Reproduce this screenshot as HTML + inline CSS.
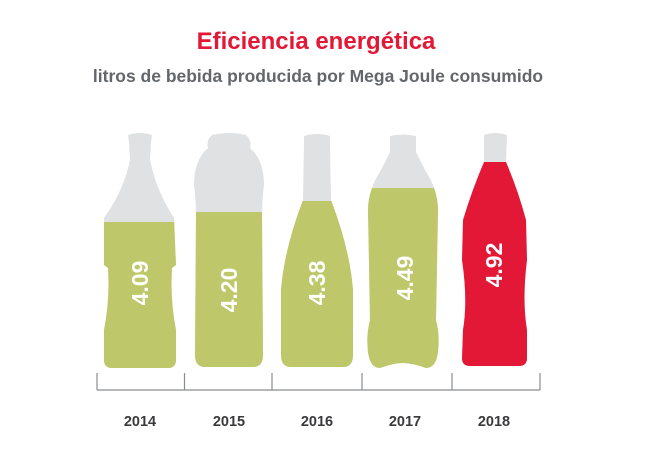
<!DOCTYPE html><html><head><style>body{margin:0;background:#fff}svg{display:block}</style></head><body>
<svg width="648" height="454" viewBox="0 0 648 454" xmlns="http://www.w3.org/2000/svg" font-family="Liberation Sans, sans-serif">
<text x="316" y="49" text-anchor="middle" font-size="24" font-weight="bold" fill="#e31837">Eficiencia energética</text>
<text x="318" y="82" text-anchor="middle" font-size="17.5" font-weight="bold" fill="#63666a">litros de bebida producida por Mega Joule consumido</text>
<defs>
<path id="b1" d="M128,135 Q140,131 152,135 L151,142 L150,160 Q156,190 174,218 L176,265 L172,268 Q170,300 176,330 L176,360 Q176,368 168,368 L112,368 Q104,368 104,360 L104,330 Q110,300 108,268 L104,265 L104,218 Q124,190 130,160 L129,142 Z"/>
<path id="b2" d="M212,135 Q229,131 246,135 Q252,140 250,148 Q264,160 264,185 Q262,200 262,215 L263,355 Q263,367 253,367 L205,367 Q195,367 195,355 L196,215 Q196,200 194,185 Q194,160 208,148 Q206,140 212,135 Z"/>
<path id="b3" d="M304,136 Q317,132 330,136 L330,142 L331,200 Q350,250 353,290 L353,355 Q353,367 343,367 L291,367 Q281,367 281,355 L281,290 Q284,250 303,200 L304,142 Z"/>
<path id="b4" d="M390,136 Q403,133 416,136 L416,152 Q420,160 425,170 Q438,190 438,210 L436,320 Q440,335 438,352 Q436,368 426,368 Q412,363 403,363 Q394,363 380,368 Q370,368 368,352 Q366,335 370,320 L368,210 Q368,190 381,170 Q386,160 390,152 Z"/>
<path id="b5" d="M484,135 Q495,131 507,135 L506,162 Q518,190 526,220 L527,260 Q522,300 527,330 L527,358 Q527,366 519,366 L470,366 Q462,366 462,358 L463,330 Q468,300 462,260 L463,220 Q472,190 484,162 Z"/>
<clipPath id="c1"><rect x="90" y="222" width="100" height="160"/></clipPath>
<clipPath id="c2"><rect x="180" y="212" width="100" height="160"/></clipPath>
<clipPath id="c3"><rect x="270" y="201" width="100" height="170"/></clipPath>
<clipPath id="c4"><rect x="360" y="188" width="100" height="190"/></clipPath>
<clipPath id="c5"><rect x="450" y="162" width="100" height="210"/></clipPath>
</defs>
<g fill="#e0e1e3"><use href="#b1"/><use href="#b2"/><use href="#b3"/><use href="#b4"/><use href="#b5"/></g>
<use href="#b1" fill="#bec769" clip-path="url(#c1)"/>
<use href="#b2" fill="#bec769" clip-path="url(#c2)"/>
<use href="#b3" fill="#bec769" clip-path="url(#c3)"/>
<use href="#b4" fill="#bec769" clip-path="url(#c4)"/>
<use href="#b5" fill="#e31837" clip-path="url(#c5)"/>
<g fill="#fff" font-size="23" font-weight="bold" text-anchor="middle">
<text transform="translate(148,283) rotate(-90)">4.09</text>
<text transform="translate(237,290) rotate(-90)">4.20</text>
<text transform="translate(325,283) rotate(-90)">4.38</text>
<text transform="translate(413,278) rotate(-90)">4.49</text>
<text transform="translate(502,265) rotate(-90)">4.92</text>
</g>
<g stroke="#8a8c8e" stroke-width="1.2" fill="none">
<path d="M97,390 H540"/>
<path d="M97,373 V390 M184.5,373 V390 M272,373 V390 M362,373 V390 M452,373 V390 M540,373 V390"/>
</g>
<g fill="#3a3a3c" font-size="14.5" font-weight="bold" text-anchor="middle">
<text x="140" y="426">2014</text><text x="229" y="426">2015</text><text x="317" y="426">2016</text><text x="405" y="426">2017</text><text x="494" y="426">2018</text>
</g>
</svg></body></html>
